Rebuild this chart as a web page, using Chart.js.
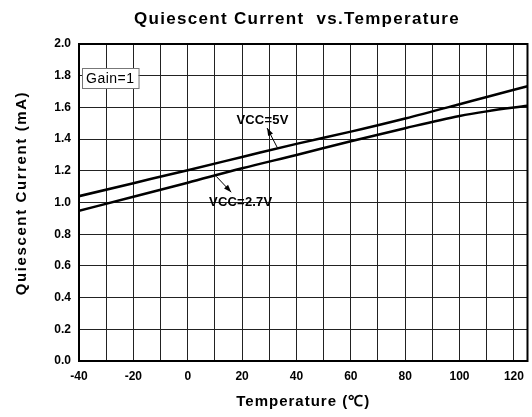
<!DOCTYPE html>
<html>
<head>
<meta charset="utf-8">
<script src="https://cdn.jsdelivr.net/npm/chart.js@4.4.1/dist/chart.umd.min.js"></script>
<style>
html,body{margin:0;padding:0;background:#fff;}
#wrap{width:532px;height:417px;position:relative;}
</style>
</head>
<body>
<div id="wrap"><canvas id="c" width="532" height="417"></canvas></div>
<script>
// ---- data ----
const temps  = [-40, -20, 0, 20, 40, 60, 80, 100, 110, 125];
const vcc5V  = [1.04, 1.122, 1.204, 1.287, 1.37, 1.447, 1.53, 1.62, 1.666, 1.733];
const vcc27V = [0.948, 1.036, 1.125, 1.216, 1.30, 1.386, 1.469, 1.546, 1.575, 1.61];
const seriesNames = ['VCC=5V', 'VCC=2.7V'];
const xTickLabels = [-40, -20, 0, 20, 40, 60, 80, 100, 120];
const yTickLabels = [0.0, 0.2, 0.4, 0.6, 0.8, 1.0, 1.2, 1.4, 1.6, 1.8, 2.0];
const chartTitle = 'Quiescent Current  vs.Temperature';
const xTitle = 'Temperature (\u2103)';
const yTitle = 'Quiescent Current (mA)';
const gainLabel = 'Gain=1';
// annotation anchors in data units [temperature, current]
const notes = [
  {text: 'VCC=5V',   at: [27.5, 1.52], from: [33, 1.345], to: [29.2, 1.47]},
  {text: 'VCC=2.7V', at: [19.5, 1.0],  from: [10.5, 1.165], to: [16, 1.065]}
];

const FONT = '"Liberation Sans", Arial, sans-serif';

const decor = {
  id: 'decor',
  afterDatasetsDraw(chart) {
    const {ctx, chartArea: a, scales: {x, y}} = chart;
    ctx.save();
    // frame
    ctx.strokeStyle = '#000';
    ctx.lineWidth = 2;
    ctx.strokeRect(a.left, a.top, a.right - a.left, a.bottom - a.top);
    // title
    ctx.fillStyle = '#000';
    ctx.textAlign = 'center';
    ctx.textBaseline = 'middle';
    ctx.font = 'bold 17px ' + FONT;
    ctx.letterSpacing = '1.3px';
    ctx.fillText(chartTitle, 297, 19);
    // axis titles
    ctx.font = 'bold 15px ' + FONT;
    ctx.letterSpacing = '1px';
    ctx.fillText(xTitle, (a.left + a.right) / 2, 402);
    ctx.save();
    ctx.translate(22, 193);
    ctx.rotate(-Math.PI / 2);
    ctx.letterSpacing = '1.6px';
    ctx.fillText(yTitle, 0, 0);
    ctx.restore();
    // gain box
    ctx.font = '14px ' + FONT;
    ctx.letterSpacing = '0.5px';
    const gx = a.left + 3, gy = a.top + 24;
    const gw = ctx.measureText(gainLabel).width + 8;
    ctx.fillStyle = '#fff';
    ctx.fillRect(gx, gy, gw, 20);
    ctx.strokeStyle = '#777';
    ctx.lineWidth = 1;
    ctx.strokeRect(gx + 0.5, gy + 0.5, gw, 20);
    ctx.fillStyle = '#000';
    ctx.textAlign = 'left';
    ctx.fillText(gainLabel, gx + 4, gy + 11);
    // notes
    ctx.font = 'bold 13px ' + FONT;
    ctx.letterSpacing = '0.2px';
    ctx.textAlign = 'center';
    notes.forEach(n => {
      const tx = x.getPixelForValue(n.at[0]), ty = y.getPixelForValue(n.at[1]);
      ctx.fillStyle = '#000';
      ctx.fillText(n.text, tx, ty);
      const x1 = x.getPixelForValue(n.from[0]), y1 = y.getPixelForValue(n.from[1]);
      const x2 = x.getPixelForValue(n.to[0]), y2 = y.getPixelForValue(n.to[1]);
      ctx.strokeStyle = '#000';
      ctx.lineWidth = 1;
      ctx.beginPath(); ctx.moveTo(x1, y1); ctx.lineTo(x2, y2); ctx.stroke();
      const ang = Math.atan2(y2 - y1, x2 - x1);
      ctx.beginPath();
      ctx.moveTo(x2, y2);
      ctx.lineTo(x2 - 8 * Math.cos(ang - 0.35), y2 - 8 * Math.sin(ang - 0.35));
      ctx.lineTo(x2 - 8 * Math.cos(ang + 0.35), y2 - 8 * Math.sin(ang + 0.35));
      ctx.closePath();
      ctx.fill();
    });
    ctx.restore();
  }
};

new Chart(document.getElementById('c'), {
  type: 'line',
  data: {
    datasets: [
      {label: seriesNames[0], data: temps.map((t, i) => ({x: t, y: vcc5V[i]})),
       borderColor: '#000', borderWidth: 2.5, pointRadius: 0, cubicInterpolationMode: 'monotone', fill: false},
      {label: seriesNames[1], data: temps.map((t, i) => ({x: t, y: vcc27V[i]})),
       borderColor: '#000', borderWidth: 2.5, pointRadius: 0, cubicInterpolationMode: 'monotone', fill: false}
    ]
  },
  options: {
    responsive: false,
    animation: false,
    devicePixelRatio: 1,
    layout: {padding: {top: 44, right: 3, left: 0, bottom: 0}},
    plugins: {legend: {display: false}, tooltip: {enabled: false}, title: {display: false}},
    scales: {
      x: {
        type: 'linear', min: -40, max: 125,
        grid: {color: '#222', lineWidth: 1, drawTicks: false},
        border: {display: false},
        ticks: {
          stepSize: 10, padding: 8, maxRotation: 0, autoSkip: false, includeBounds: false,
          color: '#000', font: {family: FONT, size: 12, weight: 'bold'},
          callback: v => xTickLabels.includes(v) ? String(v) : ''
        },
        afterFit: s => { s.height = 56; }
      },
      y: {
        min: 0, max: 2.0,
        grid: {color: '#222', lineWidth: 1, drawTicks: false},
        border: {display: false},
        ticks: {
          stepSize: 0.2, padding: 8,
          color: '#000', font: {family: FONT, size: 12, weight: 'bold'},
          callback: v => {
            const m = yTickLabels.find(t => Math.abs(t - v) < 1e-6);
            return m === undefined ? '' : m.toFixed(1);
          }
        },
        afterFit: s => { s.width = 79; }
      }
    }
  },
  plugins: [decor]
});
</script>
</body>
</html>
